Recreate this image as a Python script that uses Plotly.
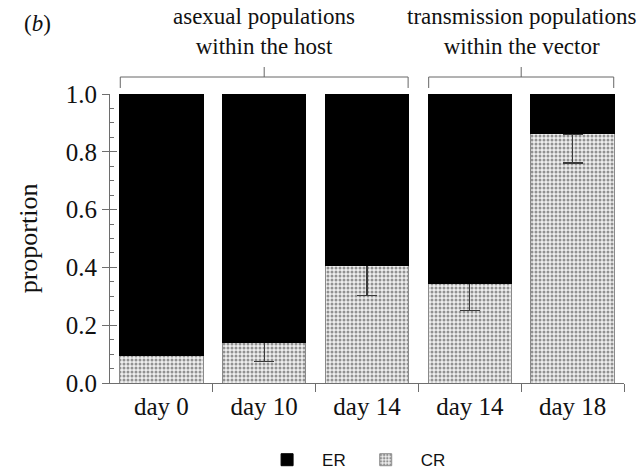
import plotly.graph_objects as go

# Proportions of the two clone types per sample
labels = ["day 0", "day 10", "day 14", "day 14", "day 18"]
cr_share = [0.095, 0.14, 0.406, 0.346, 0.862]
cr_err_low = [None, 0.065, 0.104, 0.095, 0.101]
er_share = [round(1 - v, 3) for v in cr_share]

groups = [
    ("asexual populations<br>within the host", 0, 2),
    ("transmission populations<br>within the vector", 3, 4),
]

SERIF = "Liberation Serif, Times New Roman, serif"
AX = "#6e6e6e"
INK = "#111"
xpos = list(range(len(labels)))

fig = go.Figure()
fig.add_trace(go.Bar(
    x=xpos, y=cr_share, name="CR", width=0.81,
    marker=dict(
        color="#eeeeee",
        line=dict(color="#8a8a8a", width=1),
        pattern=dict(shape=".", fgcolor="#333333", bgcolor="#eeeeee",
                     size=4, solidity=0.45),
    ),
))

# zero-height segment stacked on CR that carries its downward error bars
err_idx = [i for i, e in enumerate(cr_err_low) if e is not None]
fig.add_trace(go.Bar(
    x=[xpos[i] for i in err_idx], y=[0] * len(err_idx), width=0.81,
    marker=dict(color="rgba(0,0,0,0)", line=dict(width=0)),
    showlegend=False, hoverinfo="skip",
    error_y=dict(type="data", symmetric=False, array=[0] * len(err_idx),
                 arrayminus=[cr_err_low[i] for i in err_idx],
                 color="#3a3a3a", thickness=1.3, width=10),
))

fig.add_trace(go.Bar(
    x=xpos, y=er_share, name="ER", width=0.81,
    marker=dict(color="black", line=dict(color="black", width=1)),
))

# group brackets above the bars
H_Y, END_Y, TICK_Y = 1.0588, 1.0208, 1.0934
for text, i0, i1 in groups:
    x0, x1 = i0 - 0.4, i1 + 0.4
    xm = (x0 + x1) / 2
    fig.add_shape(type="path", xref="x", yref="paper",
                  path=f"M {x0},{END_Y} L {x0},{H_Y} L {x1},{H_Y} L {x1},{END_Y}",
                  line=dict(color="#666", width=1))
    fig.add_shape(type="line", xref="x", yref="paper", x0=xm, x1=xm,
                  y0=H_Y, y1=TICK_Y, line=dict(color="#666", width=1))
    fig.add_annotation(x=xm, xref="x", y=1.114, yref="paper", yanchor="bottom",
                       text=text, showarrow=False,
                       font=dict(family=SERIF, size=23, color=INK))

fig.add_annotation(x=-0.142, xref="paper", xanchor="center",
                   y=1.245, yref="paper", yanchor="middle",
                   text="(<i>b</i>)", showarrow=False,
                   font=dict(family=SERIF, size=23, color=INK))

fig.update_layout(
    barmode="stack",
    width=644, height=471,
    margin=dict(l=110, r=20, t=94, b=88),
    paper_bgcolor="white", plot_bgcolor="white",
    font=dict(family=SERIF, size=22, color=INK),
    showlegend=True,
    legend=dict(orientation="h", traceorder="reversed",
                x=0.47, xanchor="center", xref="paper",
                y=0.023, yanchor="middle", yref="container",
                font=dict(family="Liberation Sans, Arial, sans-serif", size=17, color=INK),
                itemwidth=60, itemclick=False),
    xaxis=dict(range=[-0.5, 4.5], tickvals=xpos, ticktext=labels, ticks="",
               showline=True, linecolor=AX, linewidth=1, showgrid=False,
               zeroline=False, automargin=False, ticklabelstandoff=1,
               tickfont=dict(family=SERIF, size=25, color=INK)),
    xaxis2=dict(overlaying="x", anchor="y", range=[-0.5, 4.5],
                tickvals=[0.5, 1.5, 2.5, 3.5, 4.5], ticks="outside", ticklen=8,
                tickcolor=AX, showticklabels=False, showgrid=False,
                zeroline=False, showline=False),
    yaxis=dict(range=[0, 1.0], dtick=0.2, tickformat=".1f", ticks="outside",
               ticklen=7, tickcolor=AX, showline=True, linecolor=AX, linewidth=1,
               showgrid=False, zeroline=False, automargin=False,
               title=dict(text="proportion", standoff=20,
                          font=dict(family=SERIF, size=26, color=INK)),
               tickfont=dict(family=SERIF, size=25, color=INK)),
    yaxis2=dict(overlaying="y", anchor="x", range=[0, 1.0], dtick=0.2,
                ticks="inside", ticklen=7, tickcolor=AX, showticklabels=False,
                showgrid=False, zeroline=False, showline=False,
                minor=dict(dtick=0.05, ticks="inside", ticklen=4, tickcolor=AX)),
)

# empty trace so the overlay axes are drawn
fig.add_trace(go.Scatter(x=[None], y=[None], xaxis="x2", yaxis="y2",
                         showlegend=False, hoverinfo="skip"))

fig.write_html("out.html")
